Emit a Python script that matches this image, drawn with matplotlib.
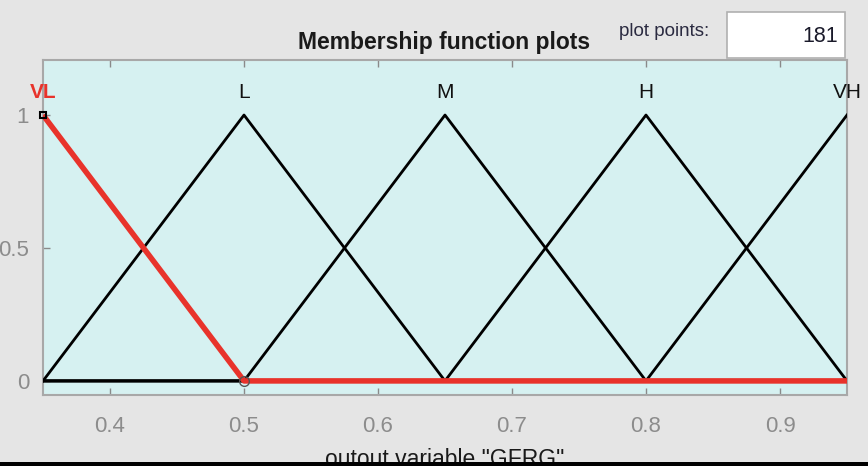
import numpy as np
import matplotlib
matplotlib.use("Agg")
from matplotlib import pyplot as plt
from matplotlib.patches import Rectangle

plt.rcParams['font.family'] = ['Liberation Sans', 'DejaVu Sans']

# funciones de pertenencia triangulares (a, b, c) de la variable de salida
mf_names = ["VL", "L", "M", "H", "VH"]
mf_params = [[0.20, 0.35, 0.50],
             [0.35, 0.50, 0.65],
             [0.50, 0.65, 0.80],
             [0.65, 0.80, 0.95],
             [0.80, 0.95, 1.10]]
x_range = [0.35, 0.95]
n_points = 181
selected = 0  # VL resaltada en rojo

x_ticks = [0.4, 0.5, 0.6, 0.7, 0.8, 0.9]
y_ticks = [0, 0.5, 1]
y_ticklabels = ["0", "0.5", "1"]


def trimf(x, p):
    a, b, c = p
    y1 = (x - a) / (b - a)
    y2 = (c - x) / (c - b)
    return np.clip(np.minimum(y1, y2), 0, 1)


x = np.linspace(x_range[0], x_range[1], n_points)

W, H = 868, 468
fig = plt.figure(figsize=(W / 100, H / 100), dpi=100)
fig.patch.set_facecolor("#e5e5e5")

ax = fig.add_axes([43 / W, 1 - 395 / H, (847 - 43) / W, (395 - 60) / H])
ax.set_facecolor("#d6f1f1")

for i, p in enumerate(mf_params):
    if i == selected:
        continue
    ax.plot(x, trimf(x, p), color="black", lw=2.0, zorder=3)

red = "#e8332b"
ax.plot(x, trimf(x, mf_params[selected]), color=red, lw=4.0, zorder=4,
        solid_capstyle="butt")
# marcadores en los vertices de la funcion seleccionada
sel = mf_params[selected]
ax.plot([sel[1]], [1], marker="s", ms=5, mfc="none", mec="black", mew=1.5,
        zorder=5, clip_on=False)
ax.plot([sel[2]], [0], marker="o", ms=7, mfc="none", mec="#555555", mew=1.0,
        zorder=5, clip_on=False)

for i, (name, p) in enumerate(zip(mf_names, mf_params)):
    is_sel = i == selected
    ax.text(p[1], 1.05, name, ha="center", va="bottom", fontsize=15,
            color=red if is_sel else "#111111",
            fontweight="bold" if is_sel else "normal", zorder=6)

ax.set_xlim(x_range)
ax.set_ylim(-0.053, 1.207)
ax.set_xticks(x_ticks)
ax.set_xticklabels([f"{t:g}" for t in x_ticks])
ax.set_yticks(y_ticks)
ax.set_yticklabels(y_ticklabels)
ax.tick_params(direction="in", length=5, width=1, color="#8a8a8a",
               labelcolor="#8c8c8c", labelsize=16, top=True, right=False)
ax.tick_params(axis="x", pad=15)
ax.tick_params(axis="y", pad=10)
for s in ax.spines.values():
    s.set_color("#a8a8a8")
    s.set_linewidth(1.5)

# titulo y cuadro de "plot points"
fig.text(444 / W, 1 - 42 / H, "Membership function plots", ha="center",
         va="center", fontsize=16.5, fontweight="bold", color="#1a1a1a")
fig.text(664 / W, 1 - 31 / H, "plot points:", ha="center", va="center",
         fontsize=13.5, color="#2a2a40")
fig.patches.append(Rectangle((727 / W, 1 - 58 / H), 118 / W, 46 / H,
                             transform=fig.transFigure, facecolor="white",
                             edgecolor="#b0b0b0", lw=1.2))
fig.text(838 / W, 1 - 37 / H, str(n_points), ha="right", va="center",
         fontsize=15.5, color="#1a1a2a")

fig.text(445 / W, 1 - 448 / H, 'outout variable "GFRG"', ha="center",
         va="top", fontsize=16.5, color="#1a1a1a")

# linea negra inferior
fig.patches.append(Rectangle((0, 0), 1, 2 / H, transform=fig.transFigure,
                             facecolor="white", edgecolor="none", zorder=10))
fig.patches.append(Rectangle((0, 2 / H), 1, 4 / H, transform=fig.transFigure,
                             facecolor="black", edgecolor="none", zorder=10))

fig.savefig("out.png", dpi=100, facecolor=fig.get_facecolor())
